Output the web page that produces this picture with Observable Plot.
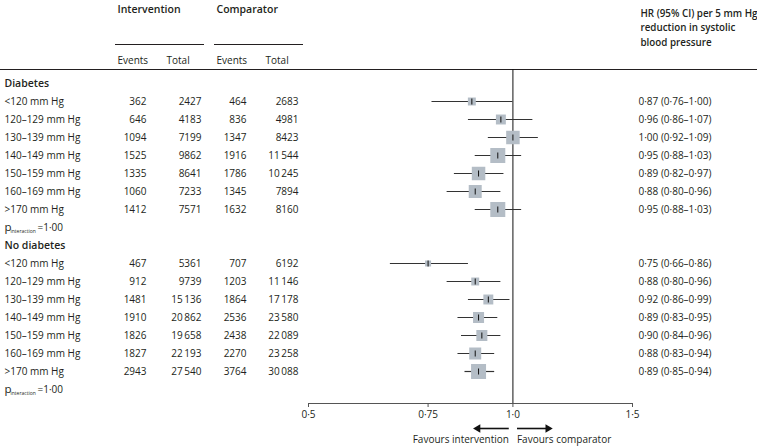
<!DOCTYPE html>
<html><head><meta charset="utf-8">
<script src="https://cdn.jsdelivr.net/npm/d3@7"></script>
<script src="https://cdn.jsdelivr.net/npm/@observablehq/plot@0.6"></script>
<style>body{margin:0;background:#fff}</style>
</head><body><div id="chart"></div>
<script>
// ---------- data ----------
const groupNames = ["Diabetes", "No diabetes"];
const categories = ["<120 mm Hg", "120–129 mm Hg", "130–139 mm Hg", "140–149 mm Hg", "150–159 mm Hg", "160–169 mm Hg", ">170 mm Hg"];

const diabIntEvents  = [362, 646, 1094, 1525, 1335, 1060, 1412];
const diabIntTotal   = [2427, 4183, 7199, 9862, 8641, 7233, 7571];
const diabCompEvents = [464, 836, 1347, 1916, 1786, 1345, 1632];
const diabCompTotal  = [2683, 4981, 8423, 11544, 10245, 7894, 8160];
const diabHR = [0.87, 0.96, 1.00, 0.95, 0.89, 0.88, 0.95];
const diabLo = [0.76, 0.86, 0.92, 0.88, 0.82, 0.80, 0.88];
const diabHi = [1.00, 1.07, 1.09, 1.03, 0.97, 0.96, 1.03];
const diabWeight = [28, 44, 81, 100, 81, 75, 100];

const noDiabIntEvents  = [467, 912, 1481, 1910, 1826, 1827, 2943];
const noDiabIntTotal   = [5361, 9739, 15136, 20862, 19658, 22193, 27540];
const noDiabCompEvents = [707, 1203, 1864, 2536, 2438, 2270, 3764];
const noDiabCompTotal  = [6192, 11146, 17178, 23580, 22089, 23258, 30088];
const noDiabHR = [0.75, 0.88, 0.92, 0.89, 0.90, 0.88, 0.89];
const noDiabLo = [0.66, 0.80, 0.86, 0.83, 0.84, 0.83, 0.85];
const noDiabHi = [0.86, 0.96, 0.99, 0.95, 0.96, 0.94, 0.94];
const noDiabWeight = [16, 28, 44, 54, 54, 64, 100];

const pInteraction = [1.00, 1.00];

const topHeaders = ["Intervention", "Comparator"];
const subHeaders = ["Events", "Total", "Events", "Total"];
const hrHeader = "HR (95% CI) per 5 mm Hg\nreduction in systolic\nblood pressure";

const xTicks = [0.5, 0.75, 1, 1.5];
const xTickLabels = ["0·5", "0·75", "1·0", "1·5"];
const favourLabels = ["Favours intervention", "Favours comparator"];
const favourArrows = [{from: 0.986, to: 0.888}, {from: 1.014, to: 1.126}];

// ---------- layout ----------
const W = 757, H = 448, mL = 308, mR = 125, mT = 69, mB = 45;
const rowTop = 83, rowStep = 18;
const yDomain = [-(rowTop - mT) / rowStep, (H - mB - rowTop) / rowStep];
const col = {label: 4, intEv: 146, intTot: 201, compEv: 246, compTot: 298, hr: 638};
const topHeaderX = [117, 216];
const subHeaderX = [117, 166, 216, 265];
const ink = "#231f20";
const boxFill = "#b4bdc6";

const dec = v => v.toFixed(2).replace(".", "·");
const fmtN = n => { const s = String(n); return s.length > 4 ? s.slice(0, -3) + "\u2009" + s.slice(-3) : s; };

// ---------- rows ----------
const groups = [
  {ie: diabIntEvents, it: diabIntTotal, ce: diabCompEvents, ct: diabCompTotal, hr: diabHR, lo: diabLo, hi: diabHi, w: diabWeight},
  {ie: noDiabIntEvents, it: noDiabIntTotal, ce: noDiabCompEvents, ct: noDiabCompTotal, hr: noDiabHR, lo: noDiabLo, hi: noDiabHi, w: noDiabWeight}
];
const headRows = [], dataRows = [], pRows = [];
groupNames.forEach((g, gi) => {
  const base = gi * (categories.length + 2);
  headRows.push({row: base, label: g});
  categories.forEach((c, i) => {
    const G = groups[gi];
    dataRows.push({row: base + 1 + i, label: c, ie: G.ie[i], it: G.it[i], ce: G.ce[i], ct: G.ct[i],
      hr: G.hr[i], lo: G.lo[i], hi: G.hi[i], w: G.w[i]});
  });
  pRows.push({row: base + categories.length + 1, p: pInteraction[gi]});
});

const left = px => ({frameAnchor: "left", dx: px - mL});
const topLeft = (px, py) => ({frameAnchor: "top-left", dx: px - mL, dy: py - mT});
const vtick = {draw(ctx, size) { const h = Math.sqrt(size / Math.PI); ctx.moveTo(0, -h); ctx.lineTo(0, h); }};
const yBottom = () => yDomain[1];

const headerMarks = [
  ...topHeaders.map((t, i) => Plot.text([t], {text: d => d, ...topLeft(topHeaderX[i], 5), textAnchor: "start", fontWeight: 600, fontSize: 10.5, fill: ink})),
  ...subHeaders.map((t, i) => Plot.text([t], {text: d => d, ...topLeft(subHeaderX[i], 56), textAnchor: "start", fill: ink})),
  Plot.text([hrHeader], {text: d => d, frameAnchor: "top-right", dx: 640 - (W - mR), dy: 26 - mT, textAnchor: "start",
    lineAnchor: "middle", lineHeight: 1.5, fontWeight: 600, fontSize: 9.8, fill: ink}),
  ...topHeaderX.map(px => Plot.ruleY([yDomain[0]], {stroke: ink, strokeWidth: 1.2, dy: 44 - mT,
    insetLeft: px - 2 - mL, insetRight: (W - mR) - (px + 87)}))
];

const chart = Plot.plot({
  width: W, height: H,
  marginLeft: mL, marginRight: mR, marginTop: mT, marginBottom: mB,
  style: {fontFamily: "'Open Sans', sans-serif", fontSize: "10px", color: ink, background: "#fff", overflow: "visible"},
  x: {type: "log", domain: [0.5, 1.5]},
  y: {domain: yDomain, range: [mT, H - mB], axis: null},
  r: {type: "sqrt", domain: [0, 100], range: [0, 15 / Math.sqrt(Math.PI)]},
  marks: [
    Plot.ruleY([yDomain[0]], {stroke: ink, strokeWidth: 1.2, insetLeft: -mL, insetRight: -mR}),
    Plot.ruleY([yDomain[1]], {stroke: "#555", strokeWidth: 1}),
    Plot.ruleX([1], {stroke: "#111", strokeWidth: 1}),
    Plot.axisX({ticks: xTicks, tickFormat: d => xTickLabels[xTicks.indexOf(d)], tickSize: 4, tickPadding: 3,
      stroke: "#555", fill: ink, label: null, fontSize: 10}),
    ...headerMarks,
    // forest
    Plot.ruleY(dataRows, {y: "row", x1: "lo", x2: "hi", stroke: "#333", strokeWidth: 1.2}),
    Plot.dot(dataRows, {x: "hr", y: "row", r: "w", symbol: "square", fill: boxFill, stroke: "none"}),
    Plot.dot(dataRows, {x: "hr", y: "row", r: 3, symbol: vtick, fill: "none", stroke: "#111", strokeWidth: 1}),
    // table text
    Plot.text(headRows, {y: "row", text: "label", ...left(col.label), textAnchor: "start", fontWeight: 600, fontSize: 10.5, fill: ink}),
    Plot.text(dataRows, {y: "row", text: "label", ...left(col.label), textAnchor: "start", fill: ink}),
    Plot.text(dataRows, {y: "row", text: d => fmtN(d.ie), ...left(col.intEv), textAnchor: "end", fill: ink}),
    Plot.text(dataRows, {y: "row", text: d => fmtN(d.it), ...left(col.intTot), textAnchor: "end", fill: ink}),
    Plot.text(dataRows, {y: "row", text: d => fmtN(d.ce), ...left(col.compEv), textAnchor: "end", fill: ink}),
    Plot.text(dataRows, {y: "row", text: d => fmtN(d.ct), ...left(col.compTot), textAnchor: "end", fill: ink}),
    Plot.text(dataRows, {y: "row", text: d => `${dec(d.hr)} (${dec(d.lo)}–${dec(d.hi)})`,
      frameAnchor: "right", dx: col.hr - (W - mR), textAnchor: "start", fill: ink}),
    // p interaction
    Plot.text(pRows, {y: "row", text: () => "p", ...left(col.label), textAnchor: "start", fontSize: 11.5, fill: ink}),
    Plot.text(pRows, {y: "row", text: () => "interaction", ...left(col.label + 6), dy: 3.5, textAnchor: "start", fontSize: 5, fill: ink}),
    Plot.text(pRows, {y: "row", text: d => "=" + dec(d.p), ...left(col.label + 33), textAnchor: "start", fill: ink}),
    // favours annotation
    Plot.link(favourArrows, {x1: "from", x2: "to", y1: yBottom, y2: yBottom, dy: 25, stroke: "#111", strokeWidth: 1.6}),
    Plot.dot(favourArrows, {x: "to", y: yBottom, dy: 25, symbol: "triangle2", r: 4, rotate: d => d.to < 1 ? -90 : 90, fill: "#111", stroke: "none"}),
    Plot.text([favourLabels[0]], {x: () => 1, text: d => d, frameAnchor: "bottom", dy: 39, dx: -4, textAnchor: "end", fill: ink}),
    Plot.text([favourLabels[1]], {x: () => 1, text: d => d, frameAnchor: "bottom", dy: 39, dx: 4, textAnchor: "start", fill: ink})
  ]
});

document.getElementById("chart").append(chart);
</script>
</body></html>
